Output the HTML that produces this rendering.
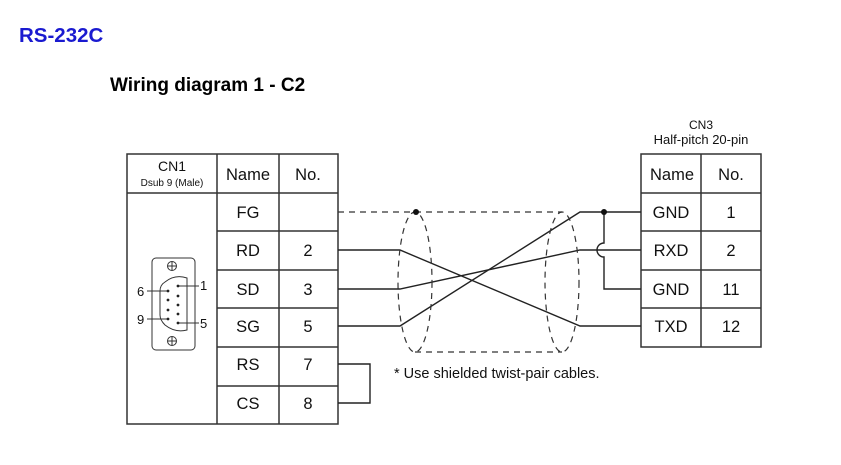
<!DOCTYPE html>
<html><head><meta charset="utf-8"><style>
body{margin:0;background:#fff;}
svg text{font-family:"Liberation Sans",Arial,sans-serif;}
</style></head><body>
<svg width="841" height="460" viewBox="0 0 841 460" xmlns="http://www.w3.org/2000/svg">
<text x="19" y="42" font-size="20.5" font-weight="bold" fill="#1a1ad0">RS-232C</text>
<text x="110" y="91" font-size="19" font-weight="bold" fill="#000">Wiring diagram 1 - C2</text>
<g stroke="#333" stroke-width="1.5" fill="none">
<rect x="127" y="154" width="211" height="270"/>
<line x1="217" y1="154" x2="217" y2="424"/>
<line x1="279" y1="154" x2="279" y2="424"/>
<line x1="127" y1="193" x2="338" y2="193"/>
<line x1="217" y1="231" x2="338" y2="231"/>
<line x1="217" y1="270" x2="338" y2="270"/>
<line x1="217" y1="308" x2="338" y2="308"/>
<line x1="217" y1="347" x2="338" y2="347"/>
<line x1="217" y1="386" x2="338" y2="386"/>
<rect x="641" y="154" width="120" height="193"/>
<line x1="701" y1="154" x2="701" y2="347"/>
<line x1="641" y1="193" x2="761" y2="193"/>
<line x1="641" y1="231" x2="761" y2="231"/>
<line x1="641" y1="270" x2="761" y2="270"/>
<line x1="641" y1="308" x2="761" y2="308"/>
</g>
<g font-size="16.5" fill="#111" text-anchor="middle">
<text x="248" y="180">Name</text><text x="308" y="180">No.</text>
<text x="248" y="218">FG</text>
<text x="248" y="256">RD</text><text x="308" y="256">2</text>
<text x="248" y="295">SD</text><text x="308" y="295">3</text>
<text x="248" y="332">SG</text><text x="308" y="332">5</text>
<text x="248" y="370">RS</text><text x="308" y="370">7</text>
<text x="248" y="409">CS</text><text x="308" y="409">8</text>
<text x="672" y="180">Name</text><text x="731" y="180">No.</text>
<text x="671" y="218">GND</text><text x="731" y="218">1</text>
<text x="671" y="256">RXD</text><text x="731" y="256">2</text>
<text x="671" y="295">GND</text><text x="731" y="295">11</text>
<text x="671" y="332">TXD</text><text x="731" y="332">12</text>
</g>
<text x="172" y="171" font-size="14" text-anchor="middle" fill="#111">CN1</text>
<text x="172" y="186" font-size="10" text-anchor="middle" fill="#111">Dsub 9 (Male)</text>
<text x="701" y="129" font-size="12" text-anchor="middle" fill="#111">CN3</text>
<text x="701" y="144" font-size="13" text-anchor="middle" fill="#111">Half-pitch 20-pin</text>
<g stroke="#333" stroke-width="1" fill="none">
<rect x="152" y="258" width="43" height="92" rx="4"/>
<circle cx="172" cy="266" r="4.5"/><line x1="167.5" y1="266" x2="176.5" y2="266"/><line x1="172" y1="261.5" x2="172" y2="270.5"/>
<circle cx="172" cy="341" r="4.5"/><line x1="167.5" y1="341" x2="176.5" y2="341"/><line x1="172" y1="336.5" x2="172" y2="345.5"/>
<path d="M165 282 Q175 274 187 278 L187 330 Q175 333 165 325 Q160 320 160 315 L160 291 Q160 285 165 282 Z"/>
<line x1="178" y1="286" x2="199" y2="286"/><line x1="178" y1="323" x2="199" y2="323"/>
<line x1="147" y1="291" x2="168" y2="291"/><line x1="147" y1="319" x2="168" y2="319"/>
</g>
<g fill="#222">
<circle cx="178" cy="286" r="1.4"/><circle cx="178" cy="296" r="1.4"/><circle cx="178" cy="305" r="1.4"/><circle cx="178" cy="314" r="1.4"/><circle cx="178" cy="323" r="1.4"/>
<circle cx="168" cy="291" r="1.4"/><circle cx="168" cy="300" r="1.4"/><circle cx="168" cy="310" r="1.4"/><circle cx="168" cy="319" r="1.4"/>
</g>
<g font-size="13" fill="#111"><text x="200" y="290">1</text><text x="200" y="328">5</text><text x="137" y="296">6</text><text x="137" y="324">9</text></g>
<g stroke="#222" stroke-width="1.4" fill="none">
<polyline points="338,250 400,250 580,326 641,326"/>
<polyline points="338,289 400,289 580,250 641,250"/>
<polyline points="338,326 400,326 580,212 641,212"/>
<path d="M604 212 L604 243 A7 7 0 0 0 604 257 L604 289 L641 289"/>
<polyline points="338,364 370,364 370,403 338,403"/>
</g>
<g stroke="#333" stroke-width="1.2" fill="none" stroke-dasharray="6,5">
<line x1="338" y1="212" x2="562" y2="212"/>
<line x1="415" y1="352" x2="562" y2="352"/>
<ellipse cx="415" cy="282" rx="17" ry="70"/>
<ellipse cx="562" cy="282" rx="17" ry="70"/>
</g>
<circle cx="416" cy="212" r="3" fill="#111"/>
<circle cx="604" cy="212" r="3" fill="#111"/>
<text x="394" y="378" font-size="14.5" fill="#111">* Use shielded twist-pair cables.</text>
</svg>
</body></html>
